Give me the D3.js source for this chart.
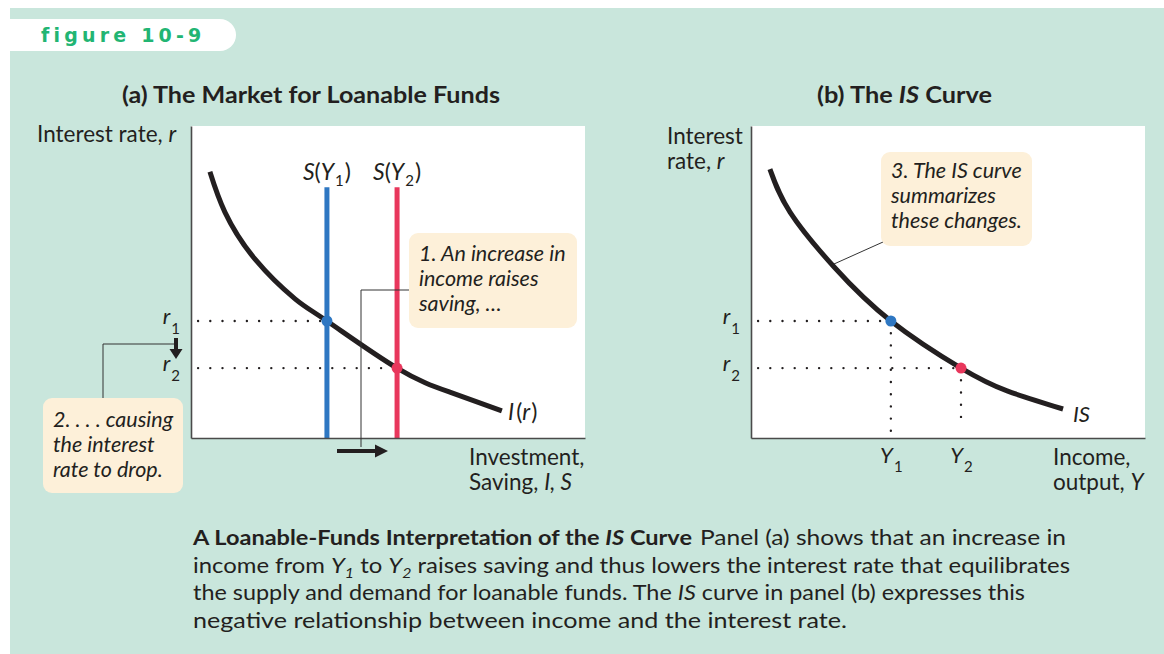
<!DOCTYPE html>
<html><head><meta charset="utf-8">
<script src="https://cdn.jsdelivr.net/npm/d3@7"></script>
<style>body{margin:0;background:#fff}svg{display:block}</style>
</head><body><svg id="c" width="1164" height="654"></svg>
<script>
// ---------- data ----------
const rateLevels   = [37.5, 22.4];          // r1, r2
const rateTickSubs = ["1", "2"];
const savingLevels = [34.5, 52.3];          // S(Y1), S(Y2)
const savingSubs   = ["1", "2"];
const savingTop    = 80.4;
const incomeLevels = [35.5, 53.3];          // Y1, Y2
const incomeSubs   = ["1", "2"];
const incomeDropEnd = [0, 5.1];             // where dotted drops stop
const investX = [4.8, 8.6, 16.2, 26.4, 34.5, 52.3, 65.7, 78.9];
const investY = [85.3, 72.4, 57.4, 44.6, 37.5, 22.4, 14.7, 8.7];
const isX = [4.8, 9.9, 21.1, 35.5, 53.3, 65.0, 79.2];
const isY = [86.2, 72.4, 54.8, 37.5, 22.4, 15.1, 9.3];
const note1 = ["1. An increase in", "income raises", "saving, \u2026"];
const note2 = ["2. . . . causing", "the interest", "rate to drop."];
const note3 = ["3. The IS curve", "summarizes", "these changes."];

// ---------- style ----------
const MINT = "#c9e6dc", BOX = "#fdf0d9", INK = "#231f20", AX = "#4a4a4a";
const BLUE = "#2e77c2", RED = "#e8375c", GREEN = "#22b573";
const FONT = "Lato, 'Open Sans', sans-serif";
const LS = 22.5;   // label size

const svg = d3.select("#c");
svg.append("rect").attr("x", 10).attr("y", 8).attr("width", 1154).attr("height", 646).attr("fill", MINT);
// tab
svg.append("rect").attr("x", -30).attr("y", 19).attr("width", 266).attr("height", 32).attr("rx", 16).attr("fill", "#fff");
svg.append("text").attr("x", 41).attr("y", 42).attr("fill", GREEN)
  .attr("font-family", "'DejaVu Sans', sans-serif").attr("font-weight", "bold").attr("font-size", 19)
  .attr("letter-spacing", 4.2).text("figure 10-9");

// titles
svg.append("text").attr("x", 122).attr("y", 103)
  .attr("font-family", FONT).attr("font-weight", "bold").attr("font-size", 23).attr("fill", INK)
  .attr("textLength", 378).attr("lengthAdjust", "spacingAndGlyphs")
  .text("(a) The Market for Loanable Funds");
const tb = svg.append("text").attr("x", 817).attr("y", 103)
  .attr("font-family", FONT).attr("font-weight", "bold").attr("font-size", 23).attr("fill", INK)
  .attr("textLength", 175).attr("lengthAdjust", "spacingAndGlyphs");
tb.append("tspan").text("(b) The ");
tb.append("tspan").attr("font-style", "italic").text("IS");
tb.append("tspan").text(" Curve");

function txt(x, y, s, opt = {}) {
  const t = svg.append("text").attr("x", x).attr("y", y).attr("font-family", FONT)
    .attr("font-size", opt.size || LS).attr("fill", INK);
  if (opt.anchor) t.attr("text-anchor", opt.anchor);
  if (opt.italic) t.attr("font-style", "italic");
  return t;
}
function sub(t, base, s, dy) {
  t.append("tspan").attr("font-style", "italic").text(base);
  t.append("tspan").attr("font-size", 15).attr("dy", dy).attr("dx", 1).text(s);
}

function makePanel(x0) {
  const x = d3.scaleLinear().domain([0, 100]).range([x0, x0 + 394]);
  const y = d3.scaleLinear().domain([0, 100]).range([438, 126]);
  svg.append("rect").attr("x", x(0)).attr("y", y(100)).attr("width", x(100) - x(0)).attr("height", y(0) - y(100)).attr("fill", "#fff");
  return { x, y };
}
function styleAxis(g) {
  g.select(".domain").attr("stroke", AX).attr("stroke-width", 1.6);
  g.selectAll(".tick line").remove();
  g.attr("font-family", FONT).attr("font-size", 22);
}
const dotted = sel => sel.attr("stroke", INK).attr("stroke-width", 2.4).attr("stroke-linecap", "round")
  .attr("stroke-dasharray", "0 12.2").attr("fill", "none");

// ---------- panel (a) ----------
const A = makePanel(191);
const lineA = d3.line().x((d, i) => A.x(investX[i])).y((d, i) => A.y(investY[i])).curve(d3.curveNatural);
rateLevels.forEach((r, i) => {
  svg.append("line").attr("x1", A.x(1.8)).attr("x2", A.x(savingLevels[i])).attr("y1", A.y(r)).attr("y2", A.y(r)).call(dotted);
});
savingLevels.forEach((s, i) => {
  svg.append("line").attr("x1", A.x(s)).attr("x2", A.x(s)).attr("y1", A.y(savingTop)).attr("y2", A.y(0))
    .attr("stroke", i ? RED : BLUE).attr("stroke-width", 5);
  const t = txt(A.x(s), A.y(savingTop) - 7, "", { anchor: "middle", size: 23 });
  t.append("tspan").attr("font-style", "italic").text("S");
  t.append("tspan").text("(");
  t.append("tspan").attr("font-style", "italic").text("Y");
  t.append("tspan").attr("font-size", 15).attr("dy", 6).attr("dx", 1).text(savingSubs[i]);
  t.append("tspan").attr("dy", -6).attr("dx", 1).text(")");
});
svg.append("path").datum(investX).attr("d", lineA).attr("fill", "none").attr("stroke", INK).attr("stroke-width", 5);
savingLevels.forEach((s, i) => {
  svg.append("circle").attr("cx", A.x(s)).attr("cy", A.y(rateLevels[i])).attr("r", 5.5).attr("fill", i ? RED : BLUE);
});
const axAL = svg.append("g").attr("transform", `translate(${A.x(0)},0)`)
  .call(d3.axisLeft(A.y).tickValues(rateLevels).tickSize(0).tickSizeOuter(0).tickPadding(11).tickFormat(() => ""));
styleAxis(axAL);
axAL.selectAll(".tick text").attr("dy", 2).attr("fill", INK).each(function (d, i) { sub(d3.select(this), "r", rateTickSubs[i], 10); });
const axAB = svg.append("g").attr("transform", `translate(0,${A.y(0)})`)
  .call(d3.axisBottom(A.x).tickValues([]).tickSizeOuter(0));
styleAxis(axAB);
{ const t = txt(508, 420, "", { size: 23 });
  t.append("tspan").attr("font-style", "italic").text("I"); t.append("tspan").attr("dx", 2).text("(");
  t.append("tspan").attr("font-style", "italic").text("r"); t.append("tspan").attr("dx", 1).text(")"); }
{ const t = txt(37, 142, ""); t.append("tspan").text("Interest rate, "); t.append("tspan").attr("font-style", "italic").text("r"); }
txt(469, 465, "").text("Investment,");
{ const t = txt(469, 490, ""); t.append("tspan").text("Saving, "); t.append("tspan").attr("font-style", "italic").text("I, S"); }

function note(x, y, w, h, lines, tx, ty) {
  svg.append("rect").attr("x", x).attr("y", y).attr("width", w).attr("height", h).attr("rx", 9).attr("fill", BOX);
  lines.forEach((l, i) => txt(tx, ty + i * 25, "", { italic: true, size: 21.5 }).text(l));
}
svg.append("path").attr("d", "M409,290H361V447").attr("fill", "none").attr("stroke", "#333").attr("stroke-width", 1);
note(409, 233, 168, 95, note1, 419, 261);
svg.append("path").attr("d", "M337,449H375V444.5L388,451L375,457.5V453H337Z").attr("fill", INK);
svg.append("path").attr("d", "M103,398V344H174").attr("fill", "none").attr("stroke", "#333").attr("stroke-width", 1);
note(43, 398, 140, 95, note2, 53, 427);
svg.append("path").attr("d", "M174,338H178V349H182.5L176,359L169.5,349H174Z").attr("fill", INK);

// ---------- panel (b) ----------
const B = makePanel(751);
const lineB = d3.line().x((d, i) => B.x(isX[i])).y((d, i) => B.y(isY[i])).curve(d3.curveNatural);
rateLevels.forEach((r, i) => {
  svg.append("line").attr("x1", B.x(1.8)).attr("x2", B.x(incomeLevels[i])).attr("y1", B.y(r)).attr("y2", B.y(r)).call(dotted);
  svg.append("line").attr("x1", B.x(incomeLevels[i])).attr("x2", B.x(incomeLevels[i])).attr("y1", B.y(r)).attr("y2", B.y(incomeDropEnd[i])).call(dotted);
});
svg.append("path").attr("d", "M883,242L834,264").attr("stroke", "#333").attr("stroke-width", 1);
svg.append("path").datum(isX).attr("d", lineB).attr("fill", "none").attr("stroke", INK).attr("stroke-width", 5);
incomeLevels.forEach((v, i) => {
  svg.append("circle").attr("cx", B.x(v)).attr("cy", B.y(rateLevels[i])).attr("r", 5.5).attr("fill", i ? RED : BLUE);
});
const axBL = svg.append("g").attr("transform", `translate(${B.x(0)},0)`)
  .call(d3.axisLeft(B.y).tickValues(rateLevels).tickSize(0).tickSizeOuter(0).tickPadding(11).tickFormat(() => ""));
styleAxis(axBL);
axBL.selectAll(".tick text").attr("dy", 2).attr("fill", INK).each(function (d, i) { sub(d3.select(this), "r", rateTickSubs[i], 10); });
const axBB = svg.append("g").attr("transform", `translate(0,${B.y(0)})`)
  .call(d3.axisBottom(B.x).tickValues(incomeLevels).tickSize(0).tickSizeOuter(0).tickFormat(() => ""));
styleAxis(axBB);
axBB.selectAll(".tick text").attr("y", 25).attr("dy", 0).attr("fill", INK).each(function (d, i) { sub(d3.select(this), "Y", incomeSubs[i], 9); });
txt(1073, 422, "", { italic: true, size: 22 }).text("IS");
txt(667, 144, "").text("Interest");
{ const t = txt(667, 169, ""); t.append("tspan").text("rate, "); t.append("tspan").attr("font-style", "italic").text("r"); }
txt(1053, 465, "").text("Income,");
{ const t = txt(1053, 490, ""); t.append("tspan").text("output, "); t.append("tspan").attr("font-style", "italic").text("Y"); }
note(881, 152, 151, 94, note3, 891, 178);

// ---------- caption ----------
function cap(x, y, len, weight) {
  return svg.append("text").attr("x", x).attr("y", y).attr("font-family", FONT).attr("font-size", 21)
    .attr("font-weight", weight || "normal").attr("fill", INK)
    .attr("textLength", len).attr("lengthAdjust", "spacingAndGlyphs");
}
{ const t = cap(193, 545, 499, "bold");
  t.append("tspan").text("A Loanable-Funds Interpretation of the ");
  t.append("tspan").attr("font-style", "italic").text("IS");
  t.append("tspan").text(" Curve"); }
cap(700, 545, 366).text("Panel (a) shows that an increase in");
{ const t = cap(193, 572.5, 877);
  t.append("tspan").text("income from ");
  t.append("tspan").attr("font-style", "italic").text("Y");
  t.append("tspan").attr("font-style", "italic").attr("font-size", 14).attr("dy", 5).text("1");
  t.append("tspan").attr("dy", -5).text(" to ");
  t.append("tspan").attr("font-style", "italic").text("Y");
  t.append("tspan").attr("font-style", "italic").attr("font-size", 14).attr("dy", 5).text("2");
  t.append("tspan").attr("dy", -5).text(" raises saving and thus lowers the interest rate that equilibrates"); }
{ const t = cap(193, 600, 832);
  t.append("tspan").text("the supply and demand for loanable funds. The ");
  t.append("tspan").attr("font-style", "italic").text("IS");
  t.append("tspan").text(" curve in panel (b) expresses this"); }
cap(193, 627.5, 654).text("negative relationship between income and the interest rate.");
</script></body></html>
